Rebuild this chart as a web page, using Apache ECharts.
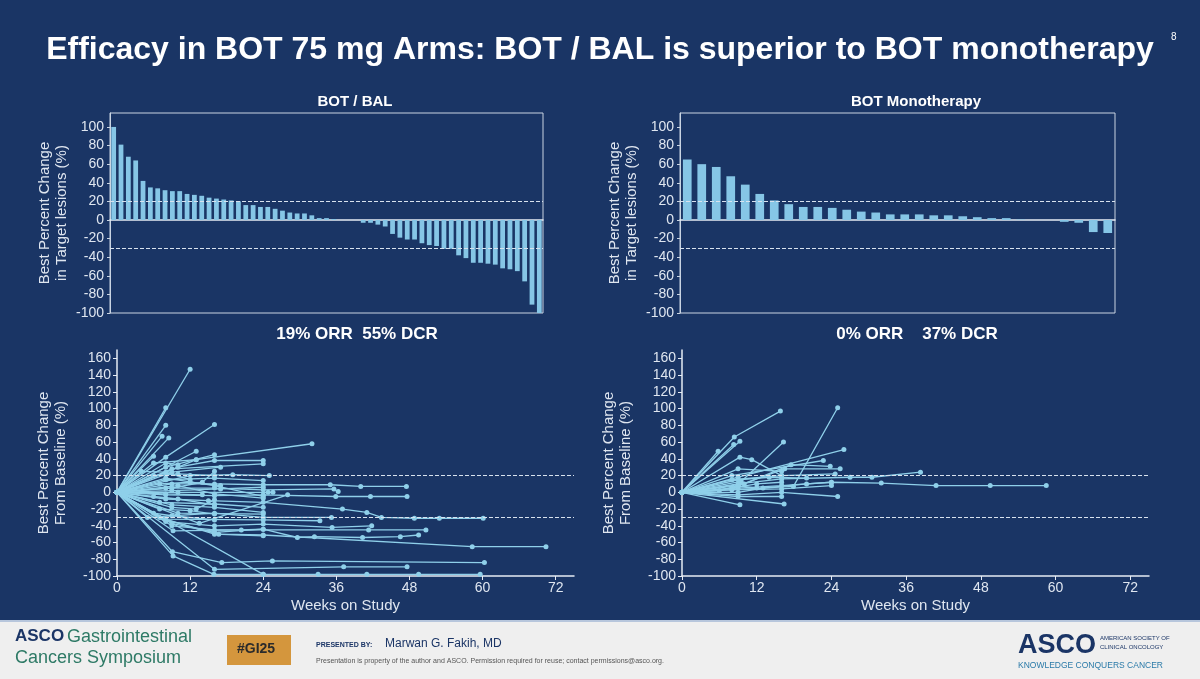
<!DOCTYPE html>
<html>
<head>
<meta charset="utf-8">
<script src="https://cdn.jsdelivr.net/npm/echarts@6/dist/echarts.min.js"></script>
<style>
  html, body { margin: 0; padding: 0; background: #1a3565; }
  #main { width: 1200px; height: 679px; }
</style>
</head>
<body>
<div id="main"></div>
<script>
// waterfall data (best % change in target lesions)
var botBalBars = [100, 81, 68, 64, 42, 35, 34, 32, 31, 31, 28, 27, 26, 24, 23, 22, 21, 20, 16, 16,
  14, 14, 12, 10, 8, 7, 7, 5, 2, 2, 1, 0, 0, 0,
  -3, -3, -5, -7, -15, -19, -21, -21, -25, -27, -28, -31, -31, -38, -41, -46, -46, -47, -48,
  -52, -53, -55, -66, -91, -100];
var botMonoBars = [65, 60, 57, 47, 38, 28, 21, 17, 14, 14, 13, 11, 9, 8, 6, 6, 6, 5, 5, 4, 3, 2, 2, 0.5,
  0, 0, -2, -3, -13, -14];

// spider data: [week, % change] per patient (origin added in code)
var botBalLines = [
  [[12, 147]], [[8, 101]], [[8, 80]], [[7.4, 67]], [[8.5, 65]],
  [[8, 42], [16, 81]], [[13, 39], [32, 58]], [[13, 49]], [[8, 30], [16, 45]], [[6, 43]],
  [[6, 35], [13, 39]], [[9, 28], [24, 34]], [[10, 30], [16, 38], [24, 38]], [[9, 24], [17, 30]],
  [[12, 20], [19, 21], [25, 20]], [[8, 15], [16, 17], [24, 14]],
  [[9, 10], [16, 10], [24, 9], [35, 9], [40, 7], [47.5, 7]],
  [[8, 5], [16, 5], [24, 3], [35.6, 4], [36.3, 1]],
  [[10, 0], [24.8, 0], [25.6, 0]], [[13.5, -37], [28, -3]],
  [[8, -3], [16, -4], [24, -3], [35.9, -5], [41.6, -5], [47.6, -5]],
  [[8, -8], [15, -10], [24, -12], [37, -20], [41, -24], [43.4, -30], [48.8, -31], [52.9, -31], [60.1, -31]],
  [[9, -15], [16, -18], [24, -24]], [[5, -30], [16, -25], [24, -30], [35.2, -30]],
  [[8, -32], [24, -33], [33.3, -34]], [[8, -35], [16, -40], [24, -38], [35.3, -42], [41.8, -40]],
  [[9, -40], [16, -45], [41.3, -45], [50.7, -45]],
  [[9, -37], [16, -48], [24, -44], [29.6, -54], [32.4, -53], [40.3, -54], [46.5, -53], [49.5, -51]],
  [[9.2, -46], [20.4, -45], [24, -44]], [[7, -30], [16, -50], [24, -52]],
  [[8, -33], [16.7, -50], [24, -51], [58.3, -65], [70.4, -65]],
  [[9.1, -71], [17.2, -84], [25.5, -82], [60.3, -84]],
  [[9.2, -76], [15.9, -98], [24, -98]], [[16, -92], [37.2, -89], [47.6, -89]],
  [[24, -98], [33, -98], [41, -98], [49.5, -98], [59.6, -98]],
  [[6, 20], [10, 22], [16, 20]], [[4, 25], [8, 24], [12, 15]], [[7, 10], [12, 12], [17, 8]],
  [[6, -5], [10, -8], [16, -15]], [[7, -20], [12, -22], [16, -26]], [[9, 5], [14, 12], [16, 25]],
  [[8, 35], [10, 33]], [[10, 8], [16, -2], [24, -7]], [[6, -25], [9, -28], [16, -33]],
  [[9, -18], [13, -20], [16, -9]], [[8, 17], [16, 8], [24, -5]], [[7, -12], [16, -14], [24, -18]],
  [[10, -25], [24, -26]], [[8, -2], [14, -3]], [[9, 2], [17, 4], [24, 6]]
];
var botMonoLines = [
  [[8.4, 66], [15.8, 97]], [[17.9, 7], [25, 101]], [[5.8, 49]], [[8.3, 57]], [[9.3, 61]],
  [[9.5, 13], [16.3, 60]], [[9, 18], [26, 51]], [[9.3, 42], [11.2, 39], [16, 20]],
  [[8, 20], [22.7, 38]], [[10, 10], [17.5, 33], [23.8, 31]], [[9, 8], [16.5, 28], [25.4, 28]],
  [[9, 28], [16, 25]], [[8, 15], [16, 20], [24.6, 22]],
  [[9, 10], [16, 16], [27, 18], [30.5, 18], [38.3, 24]],
  [[9, 5], [16, 8], [24, 12], [32, 11], [40.8, 8], [49.5, 8], [58.5, 8]],
  [[9.3, -15]], [[16.4, -14]], [[9, -3], [16, 0], [25, -5]], [[8, 5], [12, 10], [16, 12]],
  [[9, 0], [13, 5], [20, 10], [24, 12]], [[8, 3], [16, 4], [24, 8]], [[9, -5], [16, -5]],
  [[6, 2], [9, 8], [12, 5]], [[9, 15], [14, 18], [20, 17]]
];

var txt = '#dfe6f0';
var barColor = '#86c6e6';
var lineColor = '#8fd0ea';
var font = 'Liberation Sans';

var myChart = echarts.init(document.getElementById('main'));

function dashLines() {
  return {
    silent: true, symbol: 'none', label: { show: false },
    lineStyle: { color: '#d8e2ee', type: 'dashed', width: 1 },
    data: [{ yAxis: 20 }, { yAxis: -30 }]
  };
}

var grids = [
  { left: 110, right: 657, top: 113, bottom: 366, show: true, borderColor: '#c9d4e2', borderWidth: 1 },
  { left: 680, right: 85, top: 113, bottom: 366, show: true, borderColor: '#c9d4e2', borderWidth: 1 },
  { left: 117, right: 626, top: 350, bottom: 103 },
  { left: 682, right: 51, top: 350, bottom: 103 }
];

var xAxes = [], yAxes = [];
[0, 1].forEach(function (i) {
  var n = i === 0 ? botBalBars.length : botMonoBars.length;
  xAxes.push({
    type: 'category', gridIndex: i, data: Array.from({ length: n }, function (_, k) { return k + 1; }),
    axisLine: { onZero: true, lineStyle: { color: '#e6ecf4', width: 1.5 } },
    axisTick: { show: false }, axisLabel: { show: false }
  });
  yAxes.push({
    type: 'value', gridIndex: i, min: -100, max: 115, interval: 20,
    name: 'Best Percent Change\nin Target lesions (%)', nameLocation: 'middle', nameGap: 40,
    nameTextStyle: { color: txt, fontSize: 15, fontFamily: font, lineHeight: 17 },
    axisLine: { show: true, lineStyle: { color: '#c9d4e2' } },
    axisTick: { show: true, length: 3, lineStyle: { color: '#c9d4e2' } },
    axisLabel: { color: txt, fontSize: 14, fontFamily: font, showMaxLabel: false, margin: 6 },
    splitLine: { show: false }
  });
});
[2, 3].forEach(function (i) {
  xAxes.push({
    type: 'value', gridIndex: i, min: 0, max: 75, interval: 12,
    name: 'Weeks on Study', nameLocation: 'middle', nameGap: 22,
    nameTextStyle: { color: txt, fontSize: 15, fontFamily: font },
    axisLine: { onZero: false, lineStyle: { color: '#e6ecf4', width: 1.5 } },
    axisTick: { length: 4, lineStyle: { color: '#e6ecf4' } },
    axisLabel: { color: txt, fontSize: 14, fontFamily: font, showMaxLabel: false, margin: 5 },
    splitLine: { show: false }
  });
  yAxes.push({
    type: 'value', gridIndex: i, min: -100, max: 170, interval: 20,
    name: 'Best Percent Change\nFrom Baseline (%)', nameLocation: 'middle', nameGap: 48,
    nameTextStyle: { color: txt, fontSize: 15, fontFamily: font, lineHeight: 17 },
    axisLine: { show: true, lineStyle: { color: '#e6ecf4', width: 1.5 } },
    axisTick: { length: 4, lineStyle: { color: '#e6ecf4' } },
    axisLabel: { color: txt, fontSize: 14, fontFamily: font, showMaxLabel: false, margin: 6 },
    splitLine: { show: false }
  });
});

var series = [
  { type: 'bar', xAxisIndex: 0, yAxisIndex: 0, data: botBalBars, barWidth: '65%',
    itemStyle: { color: barColor }, markLine: dashLines() },
  { type: 'bar', xAxisIndex: 1, yAxisIndex: 1, data: botMonoBars, barWidth: '60%',
    itemStyle: { color: barColor }, markLine: dashLines() }
];
function addLines(list, idx) {
  list.forEach(function (pts, k) {
    series.push({
      type: 'line', xAxisIndex: idx, yAxisIndex: idx, data: [[0, 0]].concat(pts),
      symbol: 'circle', symbolSize: 5, showSymbol: true,
      lineStyle: { color: lineColor, width: 1.3 }, itemStyle: { color: lineColor },
      markLine: k === 0 ? dashLines() : undefined, silent: true
    });
  });
}
addLines(botBalLines, 2);
addLines(botMonoLines, 3);

var option = {
  backgroundColor: '#1a3565',
  animation: false,
  title: [
    { text: 'Efficacy in BOT 75 mg Arms: BOT / BAL is superior to BOT monotherapy', left: 'center', top: 29,
      textStyle: { color: '#ffffff', fontSize: 32, fontWeight: 'bold', fontFamily: font } },
    { text: '8', left: 1166, top: 27, textStyle: { color: '#ffffff', fontSize: 10, fontWeight: 'normal' } },
    { text: 'BOT / BAL', left: 350, top: 89, textAlign: 'center', textStyle: { color: '#fff', fontSize: 15, fontWeight: 'bold', fontFamily: font } },
    { text: 'BOT Monotherapy', left: 911, top: 89, textAlign: 'center', textStyle: { color: '#fff', fontSize: 15, fontWeight: 'bold', fontFamily: font } },
    { text: '19% ORR  55% DCR', left: 352, top: 321, textAlign: 'center', textStyle: { color: '#fff', fontSize: 17, fontWeight: 'bold', fontFamily: font } },
    { text: '0% ORR    37% DCR', left: 912, top: 321, textAlign: 'center', textStyle: { color: '#fff', fontSize: 17, fontWeight: 'bold', fontFamily: font } }
  ],
  grid: grids,
  xAxis: xAxes,
  yAxis: yAxes,
  series: series,
  graphic: [
    { type: 'rect', shape: { x: 0, y: 620, width: 1200, height: 59 }, style: { fill: '#efefef' } },
    { type: 'rect', shape: { x: 0, y: 620, width: 1200, height: 2 }, style: { fill: '#b7c6dc' } },
    { type: 'text', left: 15, top: 628, style: { text: 'ASCO', fill: '#1b3566', font: 'bold 17px Liberation Sans' } },
    { type: 'text', left: 67, top: 628, style: { text: 'Gastrointestinal', fill: '#2e7a66', font: '18px Liberation Sans' } },
    { type: 'text', left: 15, top: 649, style: { text: 'Cancers Symposium', fill: '#2e7a66', font: '18px Liberation Sans' } },
    { type: 'rect', shape: { x: 227, y: 635, width: 64, height: 30 }, style: { fill: '#d4963d' } },
    { type: 'text', left: 237, top: 642, style: { text: '#GI25', fill: '#2b2b2b', font: 'bold 14px Liberation Sans' } },
    { type: 'text', left: 316, top: 642, style: { text: 'PRESENTED BY:', fill: '#1b3566', font: 'bold 7px Liberation Sans' } },
    { type: 'text', left: 385, top: 638, style: { text: 'Marwan G. Fakih, MD', fill: '#1b3566', font: '12px Liberation Sans' } },
    { type: 'text', left: 316, top: 658, style: { text: 'Presentation is property of the author and ASCO. Permission required for reuse; contact permissions@asco.org.', fill: '#555', font: '7px Liberation Sans' } },
    { type: 'text', left: 1018, top: 632, style: { text: 'ASCO', fill: '#1b3566', font: 'bold 27px Liberation Sans' } },
    { type: 'text', left: 1100, top: 634, style: { text: 'AMERICAN SOCIETY OF\nCLINICAL ONCOLOGY', fill: '#1b3566', font: '6px Liberation Sans', lineHeight: 9 } },
    { type: 'text', left: 1018, top: 661, style: { text: 'KNOWLEDGE CONQUERS CANCER', fill: '#2a7aa8', font: '8.5px Liberation Sans' } }
  ]
};
myChart.setOption(option);
</script>
</body>
</html>
